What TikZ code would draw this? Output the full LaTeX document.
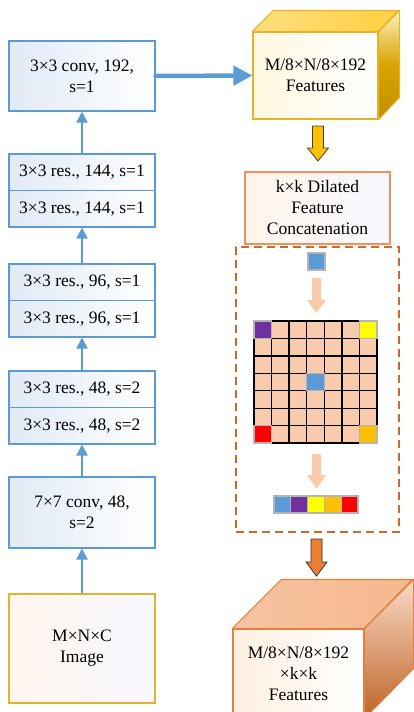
\documentclass[tikz,border=0pt]{standalone}
\usepackage{fontspec}
\setmainfont{Liberation Serif}
\usetikzlibrary{arrows.meta}
\definecolor{lineblue}{HTML}{5B9BD5}
\definecolor{paleblue}{HTML}{E1EAF6}
\definecolor{goldline}{HTML}{E5B22B}
\definecolor{orangeline}{HTML}{EE925A}
\definecolor{dashorange}{HTML}{CD6A2A}
\definecolor{cubeorange}{HTML}{E3803F}
\definecolor{peach}{HTML}{F8CBAD}
\definecolor{amber}{HTML}{FFC000}
\definecolor{darkorange}{HTML}{ED7D31}
\definecolor{cellblue}{HTML}{5B9BD5}
\definecolor{cellpurple}{HTML}{7030A0}
\definecolor{cellyellow}{HTML}{FFFF00}
\definecolor{cellred}{HTML}{FF0000}
\definecolor{cellgray}{HTML}{B4B4B4}
\begin{document}
\begin{tikzpicture}[x=1pt,y=-1pt,
  font=\fontsize{17.5}{21}\selectfont,
  layer/.style={draw=lineblue,line width=1.1pt,left color=paleblue,right color=white,
    minimum width=146pt,inner sep=0pt,align=center},
  half/.style={layer,minimum height=36.5pt},
  flow/.style={draw=lineblue,line width=2pt,-{Triangle[width=11pt,length=11pt]}},
  blockarrow/.style={line width=0.8pt,line join=miter},
  cell/.style={draw=cellgray,line width=1.3pt,minimum size=16.8pt,inner sep=0pt}]
  \clip (0,0) rectangle (414,712);
  \useasboundingbox (0,0) rectangle (414,712);

  \node[layer,minimum height=70pt] (conv192) at (82,76) {3×3 conv, 192,\\s=1};
  \node[half] (r144top) at (82,172.25) {3×3 res., 144, s=1};
  \node[half] (r144bot) at (82,208.75) {3×3 res., 144, s=1};
  \node[half] (r96top) at (82,282.25) {3×3 res., 96, s=1};
  \node[half] (r96bot) at (82,318.75) {3×3 res., 96, s=1};
  \node[half] (r48top) at (82,389.25) {3×3 res., 48, s=2};
  \node[half] (r48bot) at (82,425.75) {3×3 res., 48, s=2};
  \node[layer,minimum height=71pt] (conv7) at (82,512.5) {7×7 conv, 48,\\s=2};
  \node[layer,draw=goldline,left color=orange!7,right color=blue!3,minimum height=109pt] (image) at (82,648.5) {M×N×C\\Image};

  \draw[flow] (image) -- (conv7);
  \draw[flow] (conv7) -- (r48bot);
  \draw[flow] (r48top) -- (r96bot);
  \draw[flow] (r96top) -- (r144bot);
  \draw[flow] (r144top) -- (conv192);

  \node[draw=goldline,line width=1.1pt,left color=amber!12,right color=white,
    minimum width=125pt,minimum height=87pt,align=center,inner sep=0pt] (feat) at (315.5,75.5) {M/8×N/8×192\\Features};
  \draw[goldline,line width=1.1pt,left color=amber!50,right color=amber!75,line join=round]
    (feat.north west) -- ++(21,-21) -- ++(125,0) -- (feat.north east) -- cycle;
  \draw[goldline,line width=1.1pt,top color=amber!25,bottom color=amber!75!black,middle color=amber!85!black,line join=round]
    (feat.north east) -- ++(21,-21) -- ++(0,87) -- (feat.south east) -- cycle;
  \draw[line width=4.5pt,lineblue,line cap=round,-{Triangle[width=19pt,length=19pt]}] (conv192.east) -- (feat.west);

  \draw[blockarrow,draw=black!75,fill=amber]
    (312.5,126) -- (323.5,126) -- (323.5,148) -- (328.5,148) -- (318,161) -- (307.5,148) -- (312.5,148) -- cycle;

  \node[draw=orangeline,line width=1.1pt,left color=orange!8,right color=blue!3,
    minimum width=145pt,minimum height=72pt,align=center,inner sep=0pt] (dilate) at (317.5,208) {k×k Dilated\\Feature\\Concatenation};

  \node[draw=dashorange,line width=1.6pt,dash pattern=on 8pt off 5pt,minimum width=163pt,minimum height=285pt] (frame) at (317.5,389.5) {};

  \node[cell,fill=cellblue] (src) at (316.5,261.5) {};
  \fill[peach] (312,278) -- (321,278) -- (321,300) -- (326,300) -- (316.5,313) -- (307,300) -- (312,300) -- cycle;

  \node[draw=black,line width=1.3pt,fill=peach,minimum width=123pt,minimum height=122pt,inner sep=0pt] (grid) at (315.5,382) {};
  \foreach \i in {1,...,6} {
    \draw[line width=1.3pt] (254+\i*17.57,321) -- (254+\i*17.57,443);
    \draw[line width=1.3pt] (254,321+\i*17.43) -- (377,321+\i*17.43);
  }
  \node[cell,fill=cellpurple,minimum size=17.5pt] (tl) at (262.8,329.7) {};
  \node[cell,fill=cellyellow,minimum size=17.5pt] (tr) at (368.2,329.7) {};
  \node[cell,fill=cellred,minimum size=17.5pt] (bl) at (262.8,434.3) {};
  \node[cell,fill=amber,minimum size=17.5pt] (br) at (368.2,434.3) {};
  \node[cell,fill=cellblue,minimum size=17.5pt] (mid) at (315.5,382) {};

  \fill[peach] (312,454) -- (321,454) -- (321,475) -- (326,475) -- (316.5,489) -- (307,475) -- (312,475) -- cycle;

  \node[cell,fill=cellblue] (s1) at (282.4,504.5) {};
  \node[cell,fill=cellpurple] (s2) at (299.2,504.5) {};
  \node[cell,fill=cellyellow] (s3) at (316,504.5) {};
  \node[cell,fill=amber] (s4) at (332.8,504.5) {};
  \node[cell,fill=cellred] (s5) at (349.6,504.5) {};

  \draw[blockarrow,draw=black!80,fill=darkorange]
    (311,539) -- (322,539) -- (322,562) -- (327,562) -- (316.5,576) -- (306,562) -- (311,562) -- cycle;

  \node[draw=cubeorange,line width=1.1pt,left color=orange!12,right color=white,
    minimum width=131pt,minimum height=89pt,align=center,inner sep=0pt] (cat) at (298.5,673.5) {M/8×N/8×192\\×k×k\\Features};
  \draw[cubeorange,line width=1.1pt,left color=peach!90!darkorange,right color=peach!75!darkorange,line join=round]
    (cat.north west) -- ++(49,-49) -- ++(131,0) -- (cat.north east) -- cycle;
  \draw[cubeorange,line width=1.1pt,top color=peach!70,middle color=darkorange!85!black,bottom color=darkorange!80!black,line join=round]
    (cat.north east) -- ++(49,-49) -- ++(0,89) -- (cat.south east) -- cycle;
\end{tikzpicture}
\end{document}
